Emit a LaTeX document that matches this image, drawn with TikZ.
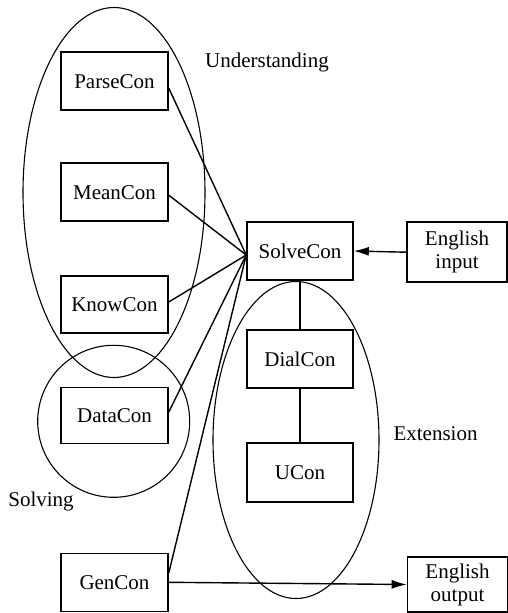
\documentclass[tikz,border=0pt]{standalone}
\usepackage{fontspec}
\setmainfont{Liberation Serif}
\usetikzlibrary{arrows.meta,calc}

\tikzset{
  conbox/.style={draw,line width=1.6pt,rectangle,minimum width=107pt,minimum height=58pt,inner sep=0pt,font=\fontsize{21}{22}\selectfont},
  iobox/.style={conbox,minimum width=100pt,minimum height=60pt,align=center,font=\fontsize{21}{23}\selectfont},
  grouplbl/.style={inner sep=0pt,font=\fontsize{21}{22}\selectfont},
  link/.style={line width=1.4pt},
  group/.style={line width=1.1pt}
}

\begin{document}
\begin{tikzpicture}[x=1pt,y=-1pt]
\useasboundingbox (0,0) rectangle (508,613);

% groups
\draw[group] (114,192.5) ellipse [x radius=91pt, y radius=185pt];
\draw[group] (113.7,421.3) circle [radius=76pt];
\draw[group] (296,440) ellipse [x radius=83pt, y radius=158.5pt];

% controllers
\node[conbox] (ParseCon) at (114.5,81.2) {ParseCon};
\node[conbox] (MeanCon) at (114.5,192.2) {MeanCon};
\node[conbox,minimum height=57pt] (KnowCon) at (114.5,304.5) {KnowCon};
\node[conbox,minimum height=56pt] (DataCon) at (114.5,415.5) {DataCon};
\node[conbox] (GenCon) at (114.5,582.3) {GenCon};
\node[conbox,minimum width=106pt] (SolveCon) at (300,251) {SolveCon};
\node[conbox,minimum width=106pt] (DialCon) at (300,359) {DialCon};
\node[conbox,minimum width=106pt,minimum height=59pt] (UCon) at (300,472.3) {UCon};
\node[iobox] (EngIn) at (457,252.2) {English\\input};
\node[iobox,minimum height=55pt] (EngOut) at (457.5,584.5) {English\\output};

% group labels
\node[grouplbl] (lblUnd) at (267,62) {Understanding};
\node[grouplbl] (lblSolv) at (41,501) {Solving};
\node[grouplbl] (lblExt) at (435.5,434) {Extension};

% links
\coordinate (SolveIn) at ([yshift=-4pt]SolveCon.west);
\draw[link] ([yshift=-7pt]ParseCon.east) -- (SolveIn);
\draw[link] ([yshift=-3pt]MeanCon.east) -- (SolveIn);
\draw[link] ([yshift=2.5pt]KnowCon.east) -- (SolveIn);
\draw[link] ([yshift=3.5pt]DataCon.east) -- (SolveIn);
\draw[link] ([yshift=9.5pt]GenCon.east) -- (SolveIn);
\draw[link] (SolveCon) -- (DialCon);
\draw[link] (DialCon) -- (UCon);
\draw[link,-{Latex[length=15pt,width=9pt]}] (EngIn.west) -- (SolveCon.east);
\draw[link,-{Latex[length=15pt,width=9pt]}] (GenCon.east) -- (EngOut.west);

\end{tikzpicture}
\end{document}
